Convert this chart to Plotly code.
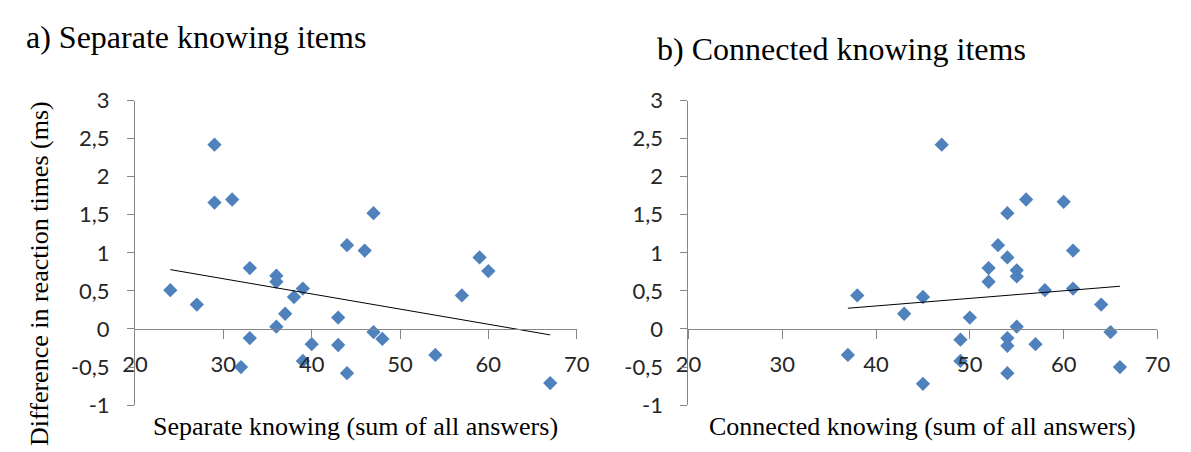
import numpy as np
import plotly.graph_objects as go

# ---------------- data ----------------
sep_x = [24, 27, 29, 29, 31, 33, 33, 32, 36, 36, 36, 37, 38, 39, 39, 40, 43, 43,
         44, 44, 46, 47, 47, 48, 54, 57, 59, 60, 67]
sep_y = [0.51, 0.32, 2.42, 1.66, 1.70, 0.80, -0.12, -0.50, 0.70, 0.62, 0.03, 0.20,
         0.42, 0.53, -0.42, -0.20, 0.15, -0.21, 1.10, -0.58, 1.03, 1.52, -0.04,
         -0.13, -0.34, 0.44, 0.94, 0.76, -0.71]

con_x = [37, 38, 43, 45, 45, 47, 49, 49, 50, 52, 52, 53, 54, 54, 54, 54, 54, 55,
         55, 55, 56, 57, 58, 60, 61, 61, 64, 65, 66]
con_y = [-0.34, 0.44, 0.20, 0.42, -0.72, 2.42, -0.14, -0.42, 0.15, 0.80, 0.62,
         1.10, 1.52, 0.94, -0.12, -0.22, -0.58, 0.77, 0.69, 0.03, 1.70, -0.20,
         0.51, 1.67, 1.03, 0.53, 0.32, -0.04, -0.50]

x_tickvals = [20, 30, 40, 50, 60, 70]
x_ticktext = ["20", "30", "40", "50", "60", "70"]
y_tickvals = [-1, -0.5, 0, 0.5, 1, 1.5, 2, 2.5, 3]
y_ticktext = ["-1", "-0,5", "0", "0,5", "1", "1,5", "2", "2,5", "3"]

title_a = "a) Separate knowing items"
title_b = "b) Connected knowing items"
xtitle_a = "Separate knowing (sum of all answers)"
xtitle_b = "Connected knowing (sum of all answers)"
ytitle = "Difference in reaction times (ms)"

# ---------------- style ----------------
W, H = 1191, 452
MARKER = "#4F81BD"
AXIS = "#868686"
TICKFONT = dict(family="Lato, Carlito, Calibri, sans-serif", size=22, color="#262626")
SERIF = "Liberation Serif, Times New Roman, serif"

XR = [20, 70]
YR = [-1, 3]

dom_a = [124.7 / W, 576.3 / W]
dom_b = [690.5 / W, 1170.0 / W]
dom_y = [1 - 416 / H, 1 - 92 / H]
# x axis crosses at y = 0
xpos = dom_y[0] + (0 - YR[0]) / (YR[1] - YR[0]) * (dom_y[1] - dom_y[0])


def trend(xs, ys):
    k, b = np.polyfit(xs, ys, 1)
    tx = [min(xs), max(xs)]
    return tx, [k * v + b for v in tx]


fig = go.Figure()

for xs, ys, xa, ya in [(sep_x, sep_y, "x", "y"), (con_x, con_y, "x2", "y2")]:
    tx, ty = trend(xs, ys)
    fig.add_trace(go.Scatter(x=xs, y=ys, mode="markers", xaxis=xa, yaxis=ya,
                             marker=dict(symbol="diamond", size=11, color=MARKER,
                                         line=dict(width=0)),
                             showlegend=False, hoverinfo="x+y"))
    fig.add_trace(go.Scatter(x=tx, y=ty, mode="lines", xaxis=xa, yaxis=ya,
                             line=dict(color="#000000", width=1),
                             showlegend=False, hoverinfo="skip"))

xcommon = dict(range=XR, tickvals=x_tickvals, ticktext=x_ticktext,
               showline=True, linecolor=AXIS, linewidth=1,
               ticks="outside", ticklen=9, tickcolor=AXIS, tickwidth=1,
               showgrid=False, zeroline=False, tickfont=TICKFONT,
               anchor="free", position=xpos, ticklabelstandoff=7)
ycommon = dict(range=YR, tickvals=y_tickvals, ticktext=y_ticktext,
               showline=True, linecolor=AXIS, linewidth=1,
               ticks="outside", ticklen=7, tickcolor=AXIS, tickwidth=1,
               showgrid=False, zeroline=False, tickfont=TICKFONT,
               domain=dom_y, ticklabelstandoff=13)

fig.update_layout(
    width=W, height=H,
    margin=dict(l=0, r=0, t=0, b=0),
    paper_bgcolor="white", plot_bgcolor="white",
    xaxis=dict(domain=dom_a, **xcommon),
    yaxis=dict(anchor="x", **ycommon),
    xaxis2=dict(domain=dom_b, **xcommon),
    yaxis2=dict(anchor="x2", **ycommon),
    showlegend=False,
    annotations=[
        dict(text=title_a, x=11 / W, y=1 - 24 / H, xref="paper", yref="paper",
             xanchor="left", yanchor="middle", showarrow=False,
             font=dict(family=SERIF, size=32, color="#000000")),
        dict(text=title_b, x=656 / W, y=1 - 37 / H, xref="paper", yref="paper",
             xanchor="left", yanchor="middle", showarrow=False,
             font=dict(family=SERIF, size=32, color="#000000")),
        dict(text=xtitle_a, x=(dom_a[0] + dom_a[1]) / 2, y=1 - 439 / H,
             xref="paper", yref="paper", xanchor="center", yanchor="middle",
             showarrow=False, font=dict(family=SERIF, size=26, color="#000000")),
        dict(text=xtitle_b, x=(dom_b[0] + dom_b[1]) / 2, y=1 - 439 / H,
             xref="paper", yref="paper", xanchor="center", yanchor="middle",
             showarrow=False, font=dict(family=SERIF, size=26, color="#000000")),
        dict(text=ytitle, x=27 / W, y=1 - 276 / H, xref="paper", yref="paper",
             xanchor="center", yanchor="middle", textangle=-90,
             showarrow=False, font=dict(family=SERIF, size=26, color="#000000")),
    ],
)

fig.write_html("out.html",
               config={"displayModeBar": False},
               post_script="document.body.style.margin='0';document.body.style.overflow='hidden';")
